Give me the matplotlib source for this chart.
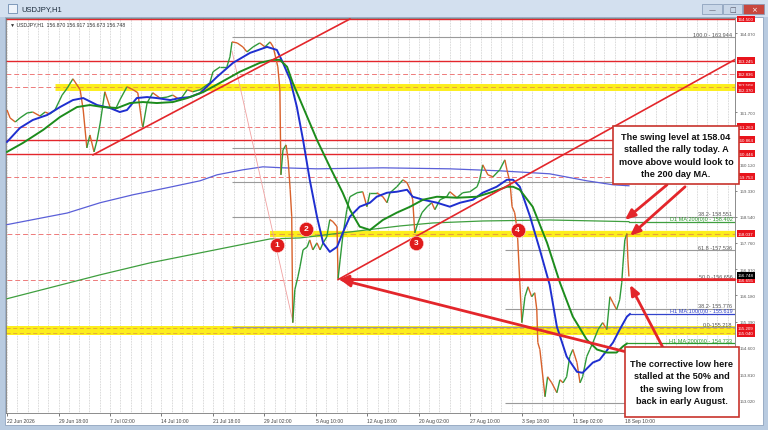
import matplotlib
matplotlib.use('Agg')
import matplotlib.pyplot as plt
import matplotlib.transforms as mtransforms
from matplotlib.collections import LineCollection
from matplotlib.patches import Rectangle

plt.rcParams['font.family'] = ['Liberation Sans', 'DejaVu Sans']

W, H = 768, 431

# time axis: one unit = spacing between two time labels (128 H1 bars)
time_labels = ['22 Jun 2026', '29 Jun 18:00', '7 Jul 02:00', '14 Jul 10:00', '21 Jul 18:00',
               '29 Jul 02:00', '5 Aug 10:00', '12 Aug 18:00', '20 Aug 02:00', '27 Aug 10:00',
               '3 Sep 18:00', '11 Sep 02:00', '18 Sep 10:00']
price_ticks = [164.070, 161.700, 160.120, 159.330, 158.540, 157.760,
               156.970, 156.180, 155.390, 154.600, 153.810, 153.020]

# USDJPY H1 price path
price_t = [0.00, 0.06, 0.16, 0.25, 0.39, 0.50, 0.64, 0.74, 0.83, 0.93,
           1.07, 1.17, 1.28, 1.42, 1.48, 1.55, 1.61, 1.69, 1.75, 1.81,
           1.90, 2.00, 2.10, 2.19, 2.33, 2.45, 2.54, 2.62, 2.64, 2.72,
           2.83, 2.97, 3.11, 3.22, 3.36, 3.50, 3.61, 3.75, 3.94, 4.00,
           4.14, 4.27, 4.33, 4.37, 4.47, 4.58, 4.66, 4.78, 4.91, 5.01,
           5.11, 5.17, 5.26, 5.30, 5.32, 5.36, 5.42, 5.46, 5.50, 5.53,
           5.55, 5.59, 5.65, 5.69, 5.75, 5.83, 5.88, 5.94, 6.02, 6.08,
           6.14, 6.21, 6.27, 6.33, 6.41, 6.43, 6.47, 6.52, 6.60, 6.66,
           6.80, 6.91, 6.99, 7.05, 7.18, 7.30, 7.38, 7.44, 7.57, 7.69,
           7.77, 7.83, 7.88, 7.92, 7.98, 8.06, 8.16, 8.25, 8.31, 8.41,
           8.54, 8.60, 8.74, 8.85, 8.99, 9.13, 9.18, 9.24, 9.34, 9.44,
           9.57, 9.67, 9.71, 9.77, 9.81, 9.86, 9.90, 9.92, 9.96, 10.00,
           10.06, 10.12, 10.19, 10.25, 10.29, 10.31, 10.35, 10.45, 10.50, 10.58,
           10.68, 10.74, 10.80, 10.87, 10.93, 10.99, 11.07, 11.13, 11.18, 11.26,
           11.32, 11.38, 11.48, 11.57, 11.65, 11.71, 11.77, 11.84, 11.90, 11.94,
           11.96, 12.00, 12.04, 12.06, 12.08]
price_v = [161.76, 161.52, 161.40, 161.52, 161.67, 161.70, 161.58, 161.70, 161.64, 161.76,
           162.21, 162.42, 162.70, 162.37, 161.76, 160.62, 161.01, 160.50, 160.86, 161.37,
           162.31, 161.85, 161.76, 162.06, 162.46, 162.37, 162.28, 161.37, 161.25, 161.97,
           162.28, 162.12, 162.15, 162.21, 162.06, 162.37, 162.31, 162.37, 162.58, 162.91,
           163.06, 163.06, 163.36, 163.81, 163.78, 163.66, 163.51, 163.66, 163.78, 163.66,
           163.81, 163.66, 163.06, 162.37, 159.81, 160.56, 160.71, 160.26, 159.36, 158.55,
           155.36, 156.35, 156.74, 157.04, 157.55, 157.64, 157.85, 157.55, 157.76, 157.55,
           157.76, 157.94, 158.46, 158.40, 158.25, 156.68, 157.25, 157.94, 158.76, 159.15,
           159.27, 159.30, 158.85, 159.27, 159.27, 159.15, 158.97, 159.27, 159.45, 159.66,
           159.57, 159.36, 159.06, 158.06, 158.36, 158.67, 158.85, 158.97, 158.76, 159.06,
           159.15, 159.30, 159.12, 159.27, 159.30, 159.45, 159.66, 160.11, 159.81, 159.75,
           159.96, 160.26, 159.96, 159.57, 158.85, 158.67, 158.25, 157.85, 156.56, 155.36,
           156.14, 156.44, 156.14, 156.26, 155.75, 154.76, 154.55, 153.13, 153.73, 153.55,
           153.25, 153.64, 153.55, 153.73, 154.34, 154.55, 154.16, 153.55, 153.73, 154.34,
           154.55, 154.76, 155.15, 155.36, 155.15, 156.14, 155.96, 155.75, 156.05, 156.56,
           157.04, 157.85, 158.04, 157.25, 156.75]

# H1 moving averages
ma100_t = [0, 0.25, 0.50, 0.78, 1.03, 1.28, 1.48, 1.75, 2.00, 2.19,
           2.33, 2.52, 2.72, 2.91, 3.17, 3.36, 3.55, 3.75, 4.08, 4.39,
           4.72, 5.05, 5.24, 5.36, 5.50, 5.63, 5.75, 5.88, 6.02, 6.14,
           6.27, 6.41, 6.52, 6.66, 6.85, 7.05, 7.18, 7.38, 7.57, 7.77,
           7.88, 8.08, 8.35, 8.60, 8.80, 9.05, 9.24, 9.51, 9.71, 9.83,
           9.96, 10.16, 10.35, 10.54, 10.68, 10.87, 11.07, 11.18, 11.38, 11.51,
           11.77, 11.90, 12.04, 12.10]
ma100_v = [160.80, 161.22, 161.46, 161.61, 161.85, 162.06, 162.12, 161.91, 161.82, 161.70,
           161.76, 162.12, 162.15, 162.12, 162.06, 162.12, 162.15, 162.27, 162.76, 163.18,
           163.48, 163.66, 163.57, 163.18, 162.67, 161.85, 160.86, 159.66, 158.55, 157.76,
           157.49, 157.64, 158.06, 158.55, 158.85, 158.97, 159.15, 159.27, 159.30, 159.36,
           159.15, 159.06, 158.97, 158.85, 158.97, 159.06, 159.27, 159.45, 159.66, 159.66,
           159.45, 158.55, 157.55, 156.50, 155.24, 154.34, 153.88, 153.85, 154.16, 154.24,
           154.76, 155.15, 155.54, 155.62]
ma200_t = [0, 0.31, 0.70, 1.03, 1.36, 1.61, 1.86, 2.14, 2.39, 2.64,
           2.91, 3.22, 3.50, 3.81, 4.14, 4.52, 4.91, 5.17, 5.30, 5.44,
           5.55, 5.75, 6.02, 6.27, 6.52, 6.66, 6.85, 7.05, 7.30, 7.57,
           7.83, 8.08, 8.35, 8.74, 9.13, 9.44, 9.71, 9.83, 9.96, 10.21,
           10.49, 10.74, 10.99, 11.26, 11.46, 11.65, 11.84, 11.96, 12.04]
ma200_v = [160.50, 160.77, 161.16, 161.55, 161.85, 161.91, 161.85, 161.82, 161.97, 162.00,
           161.97, 162.00, 162.12, 162.30, 162.58, 162.91, 163.18, 163.27, 163.27, 163.06,
           162.58, 161.85, 160.86, 160.05, 159.27, 158.76, 158.25, 158.15, 158.45, 158.67,
           158.85, 159.06, 159.15, 159.12, 159.15, 159.30, 159.45, 159.45, 159.36, 158.85,
           157.76, 156.56, 155.54, 154.85, 154.55, 154.46, 154.46, 154.64, 154.73]

# daily moving averages
d1_ma100_t = [0, 0.50, 1.17, 1.81, 2.45, 3.11, 3.75, 4.08, 4.58, 4.97,
              5.36, 6.02, 7.30, 8.60, 9.57, 10.54, 11.26, 11.77, 12.08]
d1_ma100_v = [158.31, 158.46, 158.66, 158.97, 159.21, 159.42, 159.63, 159.81, 159.96, 160.05,
              160.02, 159.99, 160.02, 159.99, 159.93, 159.84, 159.63, 159.51, 159.48]
d1_ma200_t = [0, 0.83, 1.81, 2.78, 3.75, 4.72, 5.11, 5.69, 6.66, 7.63, 8.27, 9.24, 10.54, 12.08]
d1_ma200_v = [156.08, 156.41, 156.80, 157.16, 157.46, 157.76, 157.88, 157.91, 158.09, 158.27,
              158.36, 158.42, 158.45, 158.40]

ma_labels = [(158.402, 'D1 MA:200(0)0 - 158.402', '#2c9a2c'),
             (155.619, 'H1 MA:100(0)0 - 155.619', '#3344cc'),
             (154.733, 'H1 MA:200(0)0 - 154.733', '#2c9a2c')]

# horizontal levels
red_solid = [164.500, 163.245, 160.864, 160.446]
red_dashed = [162.836, 161.263, 159.753]
red_labels = [164.500, 163.245, 162.836, 162.508, 162.370, 161.263, 160.864, 160.446,
              159.753, 158.037, 156.655, 155.209, 155.040]
last_price = 156.748

fib1_start = 4.37
fib1_levels = [163.944, 160.611, 159.581, 158.551, 155.218]
fib2_start = 9.67
fib2_levels = [157.536, 156.656, 155.776, 152.927]
fib_texts = [(163.944, '100.0 - 163.944'), (158.551, '38.2- 158.551'),
             (157.536, '61.8 -157.536'), (156.656, '50.0 -156.656'),
             (155.776, '38.2- 155.776'), (155.218, '0.0-155.218')]

# trend lines / arrows (time, price)
trend1_t, trend1_v = [1.67, 6.66], [160.41, 164.50]
trend2_t, trend2_v = [6.43, 14.14], [156.655, 163.28]
gap_t, gap_v = [4.37, 5.55], [163.53, 155.41]
arrows = [((6.43, 156.655), (14.14, 156.655)),
          ((6.47, 156.655), (12.00, 154.49)),
          ((12.10, 156.50), (12.74, 154.61)),
          ((12.00, 158.45), (12.82, 159.51)),
          ((12.10, 157.97), (13.17, 159.45))]

marker_t = [5.24, 5.81, 7.94, 9.92]
marker_v = [157.70, 158.18, 157.76, 158.15]

XMAX = 14.14


def px(x0, y0, x1, y1):
    return [x0 / W, 1 - y1 / H, (x1 - x0) / W, (y1 - y0) / H]


def fig_rect(x0, y0, x1, y1, z=-1, **kw):
    b = px(x0, y0, x1, y1)
    r = Rectangle((b[0], b[1]), b[2], b[3], transform=fig.transFigure, zorder=z, **kw)
    fig.add_artist(r)
    return r


fig = plt.figure(figsize=(W / 100, H / 100), dpi=100)
fig.patch.set_facecolor('#b9cbe0')

# window chrome (behind the axes)
fig_rect(0, 0, 768, 18, fc='#d3e0ef', ec='none')
fig_rect(5, 18, 763, 426, fc='white', ec='#8fa4bf', lw=0.6)
fig_rect(8, 5, 17, 14, fc='#eef3fa', ec='#6f8cb0', lw=0.6)
fig.text(21 / W, 1 - 10 / H, 'USDJPY,H1', fontsize=5.5, color='#1a2a3a', va='center')
for (x0, x1, fc, sym) in [(702, 722, '#c9d7e8', '\u2014'), (723, 742, '#c9d7e8', '\u25a1'),
                          (743, 764, '#c8473d', '\u00d7')]:
    fig_rect(x0, 5, x1, 15, fc=fc, ec='#8197b4', lw=0.5)
    fig.text((x0 + x1) / 2 / W, 1 - 10 / H, sym, fontsize=5, color='white' if fc == '#c8473d' else '#556',
             ha='center', va='center', family=['DejaVu Sans'])

ax = fig.add_axes(px(6, 19, 735, 414))
ax.set_facecolor('white')
ax.set_xlim(-0.02, XMAX)
ax.set_ylim(152.64, 164.53)
for s in ax.spines.values():
    s.set_color('#7a7a7a')
    s.set_linewidth(0.6)

# vertical dotted grid
for i in range(71):
    ax.axvline(i * 0.2, color='#b8b8b8', lw=0.5, ls=(0, (1, 1.3)), zorder=0)

# zones and levels
ax.hlines(162.44, 0.93, XMAX, color='#fcee1c', lw=5.0, zorder=1)
ax.hlines(162.44, 0, 0.93, color='#ee7a7a', lw=0.7, linestyles=(0, (5, 3)), zorder=2)
ax.hlines(162.44, 0.93, XMAX, color='#e7a53a', lw=0.7, linestyles=(0, (5, 3)), zorder=2)
ax.hlines(158.02, 5.11, XMAX, color='#fcee1c', lw=4.5, zorder=1)
ax.hlines(158.037, 0, 5.11, color='#ee7a7a', lw=0.7, linestyles=(0, (5, 3)), zorder=2)
ax.hlines(158.02, 5.11, XMAX, color='#e7a53a', lw=0.8, linestyles=(0, (5, 3)), zorder=2)
ax.axhspan(155.00, 155.25, color='#fcee1c', lw=0, zorder=1)
for lv in [155.209, 155.040]:
    ax.axhline(lv, color='#e2a43a', lw=0.6, ls=(0, (5, 3)), zorder=2)
for lv in red_solid:
    ax.axhline(lv, color='#e3262b', lw=1.0, zorder=2)
for lv in red_dashed:
    ax.axhline(lv, color='#ee7a7a', lw=0.7, ls=(0, (5, 3)), zorder=2)
ax.hlines(156.655, 0, 6.21, color='#ee7a7a', lw=0.7, linestyles=(0, (5, 3)), zorder=2)

# fibonacci levels
ax.hlines(fib1_levels, fib1_start, XMAX, color='#9a9a9a', lw=0.8, zorder=2)
ax.hlines(fib2_levels, fib2_start, XMAX, color='#9a9a9a', lw=0.8, zorder=2)
for lv, txt in fib_texts:
    ax.text(XMAX - 0.05, lv + 0.02, txt, ha='right', va='bottom', fontsize=4, color='#555555', zorder=3)

# daily MAs
ax.plot(d1_ma100_t, d1_ma100_v, color='#5a5fd8', lw=0.9, zorder=3)
ax.plot(d1_ma200_t, d1_ma200_v, color='#3f9f3f', lw=0.9, zorder=3)
ax.plot([d1_ma200_t[-1], XMAX], [ma_labels[0][0]] * 2, color='#3f9f3f', lw=0.9, zorder=3)

# price path, coloured like candles
segs, cols = [], []
for i in range(len(price_t) - 1):
    segs.append([(price_t[i], price_v[i]), (price_t[i + 1], price_v[i + 1])])
    cols.append('#2f9a3a' if price_v[i + 1] >= price_v[i] else '#d8612b')
ax.add_collection(LineCollection(segs, colors=cols, linewidths=1.0, zorder=4))
ax.plot(gap_t, gap_v, color='#f0a0a0', lw=0.6, zorder=3)

# H1 MAs
ax.plot(ma100_t, ma100_v, color='#1f2fd0', lw=1.4, zorder=5)
ax.plot(ma200_t, ma200_v, color='#1c8c1c', lw=1.4, zorder=5)
ax.plot([ma100_t[-1], XMAX], [ma_labels[1][0]] * 2, color='#3344cc', lw=0.9, zorder=5)
ax.plot([ma200_t[-1], XMAX], [ma_labels[2][0]] * 2, color='#2c9a2c', lw=0.9, zorder=5)
for lv, txt, c in ma_labels:
    ax.text(XMAX - 0.05, lv + 0.02, txt, ha='right', va='bottom', fontsize=4, color=c, zorder=3)

# trend lines
ax.plot(trend1_t, trend1_v, color='#e3262b', lw=1.2, zorder=6)
ax.plot(trend2_t, trend2_v, color='#e3262b', lw=1.2, zorder=6)
for head, tail in arrows:
    ax.annotate('', xy=head, xytext=tail, annotation_clip=False, zorder=7,
                arrowprops=dict(arrowstyle='-|>,head_length=0.6,head_width=0.25', color='#e3262b',
                                lw=2.0, shrinkA=0, shrinkB=0))

# numbered markers
ax.scatter(marker_t, marker_v, s=105, color='#e01b1b', edgecolors='#ffdddd', linewidths=0.4, zorder=8)
for i, (t, v) in enumerate(zip(marker_t, marker_v)):
    ax.text(t, v, str(i + 1), color='white', fontsize=6, fontweight='bold', ha='center', va='center', zorder=9)

# axes ticks
ax.yaxis.tick_right()
ax.set_yticks(price_ticks)
ax.set_yticklabels([f'{p:.3f}' for p in price_ticks])
ax.tick_params(axis='y', length=1.5, width=0.5, labelsize=3.2, colors='#555555', pad=1.5)
ax.set_xticks(range(len(time_labels)))
ax.set_xticklabels(time_labels, ha='left')
ax.tick_params(axis='x', length=2, width=0.5, labelsize=3.6, colors='#444444', pad=1.5)

trans = mtransforms.blended_transform_factory(ax.transAxes, ax.transData)
for lv in red_labels:
    ax.text(1.004, lv, f'{lv:.3f}', transform=trans, fontsize=3.2, color='white', va='center', ha='left',
            bbox=dict(boxstyle='square,pad=0.3', fc='#e8141c', ec='none'), clip_on=False, zorder=10)
ax.text(1.004, last_price + 0.04, f'{last_price:.3f}', transform=trans, fontsize=3.2, color='white',
        va='center', ha='left', bbox=dict(boxstyle='square,pad=0.3', fc='black', ec='none'),
        clip_on=False, zorder=10)

ax.text(0.006, 0.992, '\u25bc USDJPY,H1  156.870 156.917 156.673 156.748', transform=ax.transAxes,
        fontsize=3.7, color='#333333', va='top', ha='left', zorder=10)

# callout boxes
callouts = [((613, 127, 739, 185), 'The swing level at 158.04\nstalled the rally today. A\n'
             'move above would look to\nthe 200 day MA.'),
            ((625, 348, 739, 418), 'The corrective low here\nstalled at the 50% and\n'
             'the swing low from\nback in early August.')]
for (x0, y0, x1, y1), txt in callouts:
    fig_rect(x0, y0, x1, y1, z=20, fc='white', ec='#c8342c', lw=1.2)
    t = fig.text((x0 + x1) / 2 / W, 1 - (y0 + y1) / 2 / H, txt, ha='center', va='center',
                 fontsize=6.6, fontweight='bold', color='#111111', linespacing=1.45)
    t.set_zorder(21)

fig.savefig('out.png', dpi=100, facecolor=fig.get_facecolor())
